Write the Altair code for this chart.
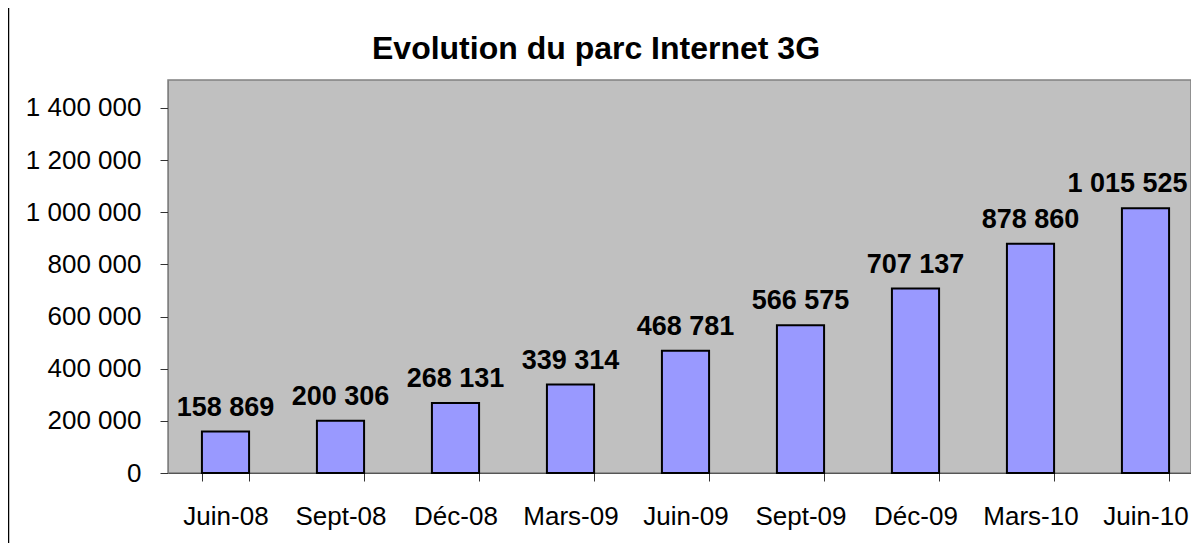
import altair as alt
import pandas as pd

periodes = ["Juin-08", "Sept-08", "Déc-08", "Mars-09", "Juin-09", "Sept-09", "Déc-09", "Mars-10", "Juin-10"]
abonnes = [158869, 200306, 268131, 339314, 468781, 566575, 707137, 878860, 1015525]
y_ticks = [0, 200000, 400000, 600000, 800000, 1000000, 1200000, 1400000]
titre = "Evolution du parc Internet 3G"

labels = [format(v, ",").replace(",", " ") for v in abonnes]
df = pd.DataFrame({"periode": periodes, "abonnes": abonnes, "label": labels})

FONT = "Liberation Sans"

x_enc = alt.X(
    "periode:N",
    sort=periodes,
    scale=alt.Scale(range=[0, 1035], paddingInner=0.59, paddingOuter=0.295),
    axis=alt.Axis(
        title=None,
        labelAngle=0,
        tickBand="extent",
        tickSize=8,
        tickColor="#333333",
        domainColor="#555555",
        labelFont=FONT,
        labelFontSize=26,
        labelColor="black",
        labelBaseline="alphabetic",
        labelPadding=43,
        labelOverlap=False,
        labelFlush=False,
    ),
)
y_enc = alt.Y(
    "abonnes:Q",
    scale=alt.Scale(domain=[0, 1507000], nice=False),
    axis=alt.Axis(
        title=None,
        values=y_ticks,
        grid=False,
        tickSize=8,
        tickColor="#333333",
        domainColor="#808080",
        labelFont=FONT,
        labelFontSize=26,
        labelColor="black",
        labelPadding=19,
        labelExpr="replace(replace(format(datum.value, ','), ',', ' '), ',', ' ')",
    ),
)

bars = alt.Chart(df).mark_bar(color="#9999FF", stroke="black", strokeWidth=2).encode(x=x_enc, y=y_enc)

text_style = dict(baseline="alphabetic", align="center", fontWeight="bold", fontSize=27, font=FONT, color="black")
last = periodes[-1]

texts = alt.Chart(df).transform_filter(
    alt.datum.periode != last
).mark_text(dy=-16, **text_style).encode(
    x=alt.X("periode:N", sort=periodes), y="abonnes:Q", text="label:N"
)

# the last label is nudged left so it stays inside the chart, as in the original
texts_last = alt.Chart(df).transform_filter(
    alt.datum.periode == last
).mark_text(dy=-16, dx=-18, **text_style).encode(
    x=alt.X("periode:N", sort=periodes), y="abonnes:Q", text="label:N"
)

title_layer = alt.Chart(pd.DataFrame({"t": [titre]})).mark_text(
    fontSize=32, fontWeight="bold", font=FONT, align="center", baseline="alphabetic", color="black"
).encode(x=alt.value(428), y=alt.value(-21), text="t:N")

border = alt.Chart(pd.DataFrame({"k": [0]})).mark_rule(color="black", strokeWidth=1.5).encode(
    x=alt.value(-159.5), y=alt.value(-72), y2=alt.value(470)
)

chart = (
    alt.layer(bars, texts, texts_last, title_layer, border)
    .properties(
        width=1023,
        height=393,
        autosize=alt.AutoSizeParams(type="none"),
        padding={"left": 160, "top": 72, "right": 0, "bottom": 70},
    )
    .configure_view(fill="#C0C0C0", stroke="#808080", strokeWidth=1.5)
)

chart.save("out.html", embed_options={"renderer": "svg", "actions": False})
